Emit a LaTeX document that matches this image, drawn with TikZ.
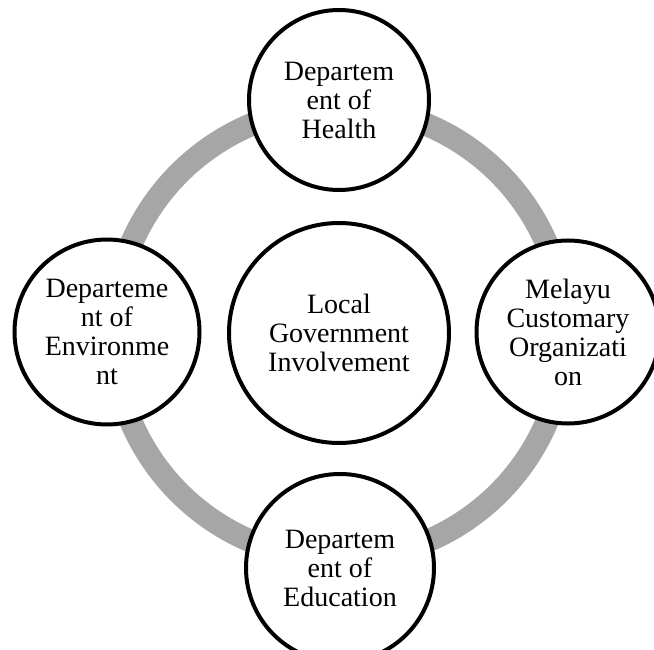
\documentclass[tikz,border=0pt]{standalone}
\usepackage{fontspec}
\setmainfont{Liberation Serif}
\definecolor{ringgray}{HTML}{A6A6A6}
\begin{document}
\begin{tikzpicture}[x=1pt,y=-1pt,
  ring/.style={draw=ringgray,line width=23pt},
  bubble/.style={circle,draw=black,line width=4pt,fill=white,inner sep=0pt,
    align=center,font=\fontsize{28}{29}\selectfont}]
\useasboundingbox (0,0) rectangle (654,650);
\clip (0,0) rectangle (654,650);
\coordinate (c) at (339,333);
\draw[ring] (c) circle[radius=226];
\node[bubble,minimum size=220pt] (mid) at (339,333) {Local\\Government\\Involvement};
\node[bubble,minimum size=180pt] (top) at (339,100) {Departem\\ent of\\Health};
\node[bubble,minimum size=185pt] (left) at (107,332) {Departeme\\nt of\\Environme\\nt};
\node[bubble,minimum size=183pt] (right) at (568,332) {Melayu\\Customary\\Organizati\\on};
\node[bubble,minimum size=188pt] (bot) at (340,568) {Departem\\ent of\\Education};
\end{tikzpicture}
\end{document}
